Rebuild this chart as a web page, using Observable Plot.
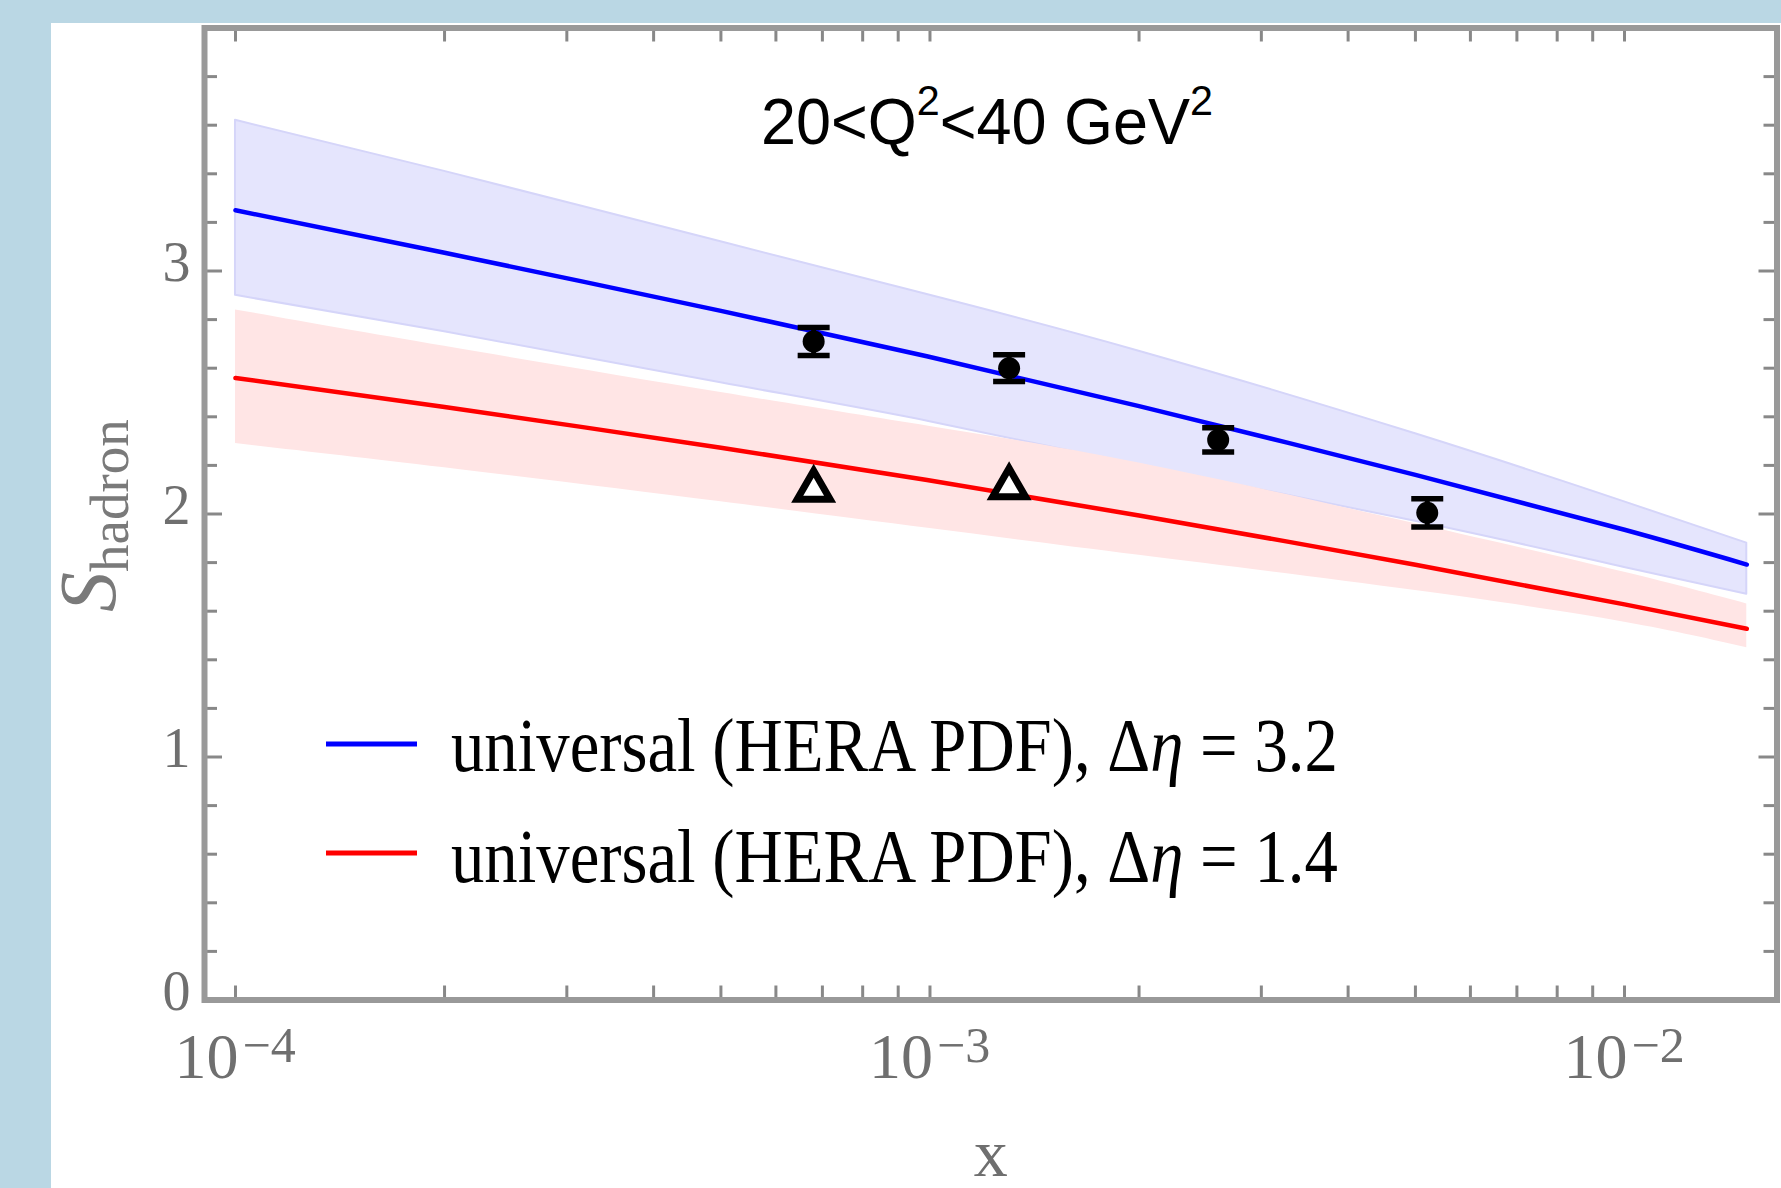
<!DOCTYPE html>
<html><head><meta charset="utf-8">
<script src="https://cdn.jsdelivr.net/npm/d3@7"></script>
<script src="https://cdn.jsdelivr.net/npm/@observablehq/plot@0.6"></script>
<style>
html,body{margin:0;padding:0;background:#bad7e4;width:1781px;height:1188px;overflow:hidden}
#panel{position:absolute;left:51px;top:23px;right:0;bottom:0;background:#fff}
#chart{position:absolute;left:0;top:0}
</style></head><body><div id="panel"></div><div id="chart"></div>
<script>
// ---- data ----
const xGrid       = [1e-4, 2e-4, 5e-4, 1e-3, 2e-3, 5e-3, 1e-2, 1.5e-2];
const blueCentral = [3.25, 3.075, 2.836, 2.646, 2.444, 2.161, 1.935, 1.792];
const blueUpper   = [3.62, 3.41, 3.12, 2.90, 2.67, 2.33, 2.05, 1.88];
const blueLower   = [2.90, 2.75, 2.54, 2.38, 2.20, 1.97, 1.78, 1.67];
const redCentral  = [2.56, 2.44, 2.273, 2.138, 1.994, 1.791, 1.628, 1.528];
const redUpper    = [2.84, 2.69, 2.50, 2.36, 2.21, 1.96, 1.76, 1.63];
const redLower    = [2.29, 2.19, 2.05, 1.94, 1.83, 1.685, 1.555, 1.45];
const dataX   = [6.8e-4, 1.3e-3, 2.6e-3, 5.2e-3];
const dataY   = [2.71, 2.60, 2.305, 2.005];
const dataErr = [0.058, 0.055, 0.05, 0.058];
const triX = [6.8e-4, 1.3e-3];
const triY = [2.10, 2.11];
const xMajorTicks = [1e-4, 1e-3, 1e-2];
const xTickExponents = ["\u22124", "\u22123", "\u22122"];
const xMinorTicks = [2e-4,3e-4,4e-4,5e-4,6e-4,7e-4,8e-4,9e-4,2e-3,3e-3,4e-3,5e-3,6e-3,7e-3,8e-3,9e-3];
const yMajorTicks = [0, 1, 2, 3];
const yMinorTicks = [0.2,0.4,0.6,0.8,1.2,1.4,1.6,1.8,2.2,2.4,2.6,2.8,3.2,3.4,3.6,3.8];
const legendLabels = ["3.2", "1.4"];
const legendColors = ["#0000ff", "#ff0000"];

// ---- layout ----
const W = 1781, H = 1188, mL = 204, mR = 4.5, mT = 27.5, mB = 188.5;
const plotW = W - mL - mR, plotH = H - mT - mB;
const serif = "'Liberation Serif','Times New Roman',serif";
const sans = "'Liberation Sans',Arial,sans-serif";
const tickGray = "#6f6f6f";

const band = (lo, hi) => xGrid.map((x, i) => ({x, lo: lo[i], hi: hi[i]}));
const line = (ys) => xGrid.map((x, i) => ({x, y: ys[i]}));
const pts = dataX.map((x, i) => ({x, y: dataY[i], e: dataErr[i]}));
const tris = triX.map((x, i) => ({x, y: triY[i]}));

const capSymbol = {draw(ctx, size) { const r = Math.sqrt(size / Math.PI); ctx.moveTo(-r, 0); ctx.lineTo(r, 0); }};
const triSymbol = {draw(ctx, size) { const r = Math.sqrt(size / Math.PI); const h = Math.sqrt(3) / 2 * r;
  ctx.moveTo(0, -r); ctx.lineTo(h, r / 2); ctx.lineTo(-h, r / 2); ctx.closePath(); }};

const svg = Plot.plot({
  width: W, height: H,
  marginLeft: mL, marginRight: mR, marginTop: mT, marginBottom: mB,
  style: {background: "transparent", overflow: "visible"},
  x: {type: "log", domain: [10 ** -4.0446, 10 ** -1.7804], axis: null},
  y: {domain: [0, 4], axis: null},
  marks: [
    Plot.areaY(band(blueLower, blueUpper), {x: "x", y1: "lo", y2: "hi", fill: "#e5e5fd", stroke: "#d5d5f9", strokeWidth: 2, curve: "natural"}),
    Plot.areaY(band(redLower, redUpper), {x: "x", y1: "lo", y2: "hi", fill: "#ffe5e5", curve: "natural"}),
    Plot.line(line(blueCentral), {x: "x", y: "y", stroke: "#0000ff", strokeWidth: 4.5, curve: "natural"}),
    Plot.line(line(redCentral), {x: "x", y: "y", stroke: "#ff0000", strokeWidth: 4.5, curve: "natural"}),
    Plot.ruleX(pts, {x: "x", y1: d => d.y - d.e, y2: d => d.y + d.e, stroke: "black", strokeWidth: 5}),
    Plot.dot(pts, {x: "x", y: d => d.y + d.e, symbol: capSymbol, r: 16, fill: "none", stroke: "black", strokeWidth: 5.5}),
    Plot.dot(pts, {x: "x", y: d => d.y - d.e, symbol: capSymbol, r: 16, fill: "none", stroke: "black", strokeWidth: 5.5}),
    Plot.dot(pts, {x: "x", y: "y", r: 11, fill: "black"}),
    Plot.dot(tris, {x: "x", y: "y", symbol: triSymbol, r: 19, fill: "white", stroke: "black", strokeWidth: 7, strokeLinejoin: "miter"}),
    // ticks (inward, on all four sides)
    Plot.ruleX([...xMajorTicks, ...xMinorTicks], {x: d => d, insetTop: plotH - 14, stroke: "#888", strokeWidth: 3}),
    Plot.ruleX([...xMajorTicks, ...xMinorTicks], {x: d => d, insetBottom: plotH - 14, stroke: "#888", strokeWidth: 3}),
    Plot.ruleY(yMajorTicks, {y: d => d, insetRight: plotW - 18, stroke: "#888", strokeWidth: 3}),
    Plot.ruleY(yMinorTicks, {y: d => d, insetRight: plotW - 13, stroke: "#888", strokeWidth: 3}),
    Plot.ruleY(yMajorTicks, {y: d => d, insetLeft: plotW - 18, stroke: "#888", strokeWidth: 3}),
    Plot.ruleY(yMinorTicks, {y: d => d, insetLeft: plotW - 13, stroke: "#888", strokeWidth: 3}),
    Plot.frame({stroke: "#999", strokeWidth: 6}),
    // tick labels
    Plot.text(yMajorTicks, {y: d => d, text: d => String(d), frameAnchor: "left", textAnchor: "end", dx: -14, dy: -8,
      fontSize: 56, fontFamily: serif, fill: tickGray}),
    Plot.text(xMajorTicks, {x: d => d, text: () => "10", frameAnchor: "bottom", textAnchor: "end", dx: 3, dy: 78,
      fontSize: 64, fontFamily: serif, fill: tickGray}),
    Plot.text(xMajorTicks, {x: d => d, text: (d, i) => xTickExponents[i], frameAnchor: "bottom", textAnchor: "start", dx: 7, dy: 62,
      fontSize: 50, fontFamily: serif, fill: tickGray}),
    Plot.text(["x"], {text: d => d, frameAnchor: "bottom", dy: 176, fontSize: 68, fontFamily: serif, fill: tickGray})
  ]
});
document.getElementById("chart").appendChild(svg);

const s = d3.select(svg);
// fit a text element to a target width by horizontal scaling (keeps glyph layout intact)
function fitWidth(textSel, target) {
  const w = textSel.node().getComputedTextLength();
  const k = w > 0 ? target / w : 1;
  textSel.attr("transform", `scale(${k},1)`);
}

// title
const tg = s.append("g").attr("transform", "translate(761,144)");
const t = tg.append("text").attr("x", 0).attr("y", 0).attr("text-anchor", "start")
  .attr("font-family", sans).attr("font-size", 64).attr("fill", "black");
t.append("tspan").text("20<Q");
t.append("tspan").attr("dy", -29).attr("font-size", 42).text("2");
t.append("tspan").attr("dy", 29).text("<40 GeV");
t.append("tspan").attr("dy", -29).attr("font-size", 42).text("2");
fitWidth(t, 452);

// y label
const yl = s.append("text").attr("transform", "translate(115,612) rotate(-90)").attr("text-anchor", "start")
  .attr("font-family", serif).attr("fill", "#7a7a7a");
yl.append("tspan").attr("font-size", 80).attr("font-style", "italic").text("S");
yl.append("tspan").attr("font-size", 55).attr("dy", 13).text("hadron");

// legend
const rows = [744, 853];
legendLabels.forEach((lab, i) => {
  s.append("line").attr("x1", 326).attr("x2", 417).attr("y1", rows[i]).attr("y2", rows[i])
    .attr("stroke", legendColors[i]).attr("stroke-width", 5);
  const g = s.append("g").attr("transform", `translate(451,${rows[i] + 27 + i * 2})`);
  const tx = g.append("text").attr("x", 0).attr("y", 0).attr("text-anchor", "start")
    .attr("font-family", serif).attr("font-size", 76).attr("fill", "black");
  tx.append("tspan").text("universal (HERA PDF), \u0394");
  tx.append("tspan").attr("font-style", "italic").text("\u03b7");
  tx.append("tspan").text(" = " + lab);
  fitWidth(tx, 887);
});
</script></body></html>
